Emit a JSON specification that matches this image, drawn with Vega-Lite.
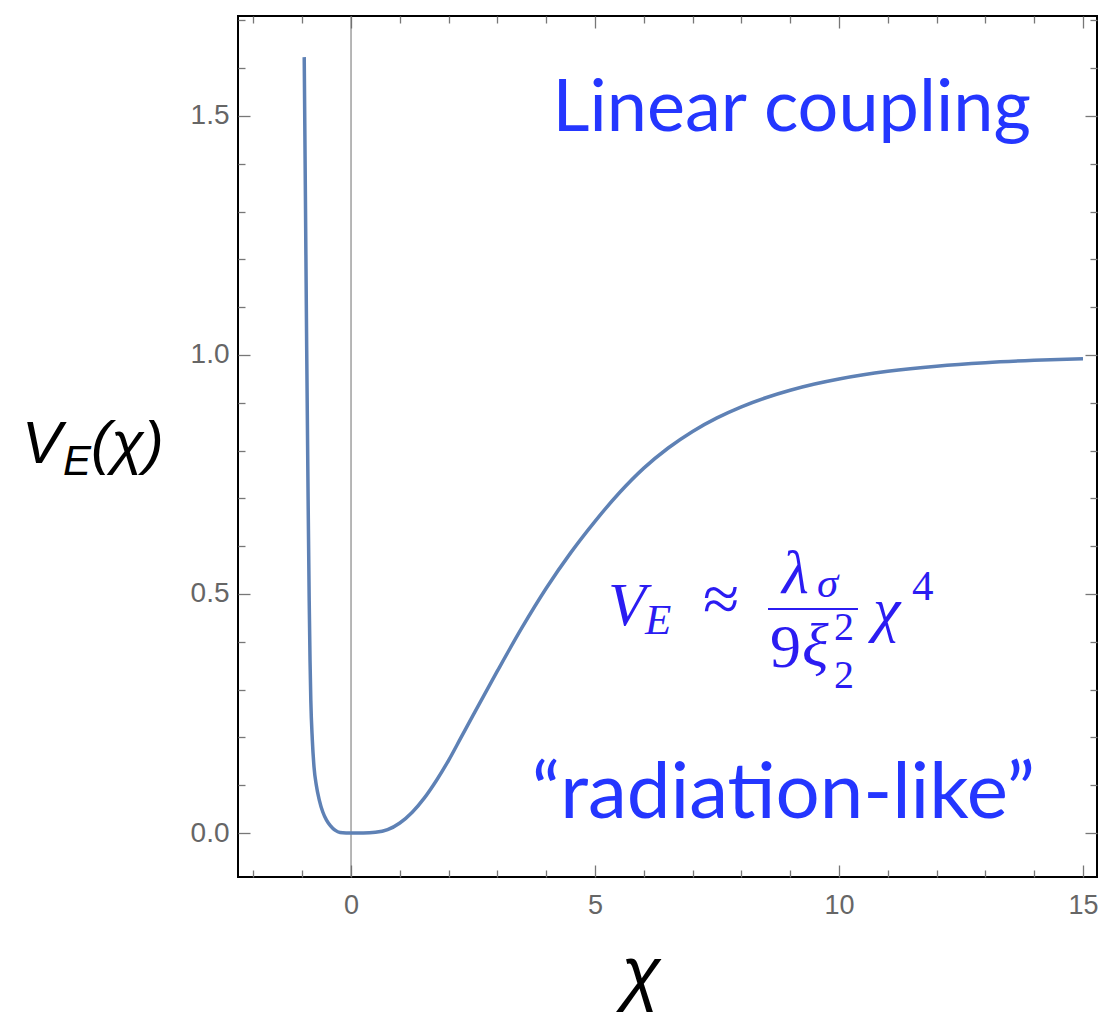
{
  "$schema": "https://vega.github.io/schema/vega-lite/v6.json",
  "width": 859,
  "height": 861,
  "autosize": {"type": "none"},
  "padding": {"left": 238, "top": 16, "right": 1, "bottom": 136},
  "background": "white",
  "config": {"view": {"stroke": "black", "strokeWidth": 2}},
  "data": {"values": [{}]},
  "datasets": {
    "curve": [
      {"chi": -0.959, "V": 1.623},
      {"chi": -0.934, "V": 1.324},
      {"chi": -0.908, "V": 1.01},
      {"chi": -0.879, "V": 0.697},
      {"chi": -0.857, "V": 0.487},
      {"chi": -0.84, "V": 0.362},
      {"chi": -0.824, "V": 0.278},
      {"chi": -0.793, "V": 0.195},
      {"chi": -0.758, "V": 0.138},
      {"chi": -0.711, "V": 0.1},
      {"chi": -0.65, "V": 0.069},
      {"chi": -0.578, "V": 0.044},
      {"chi": -0.502, "V": 0.027},
      {"chi": -0.42, "V": 0.015},
      {"chi": -0.328, "V": 0.006},
      {"chi": -0.225, "V": 0.001},
      {"chi": -0.1, "V": 0.0001},
      {"chi": 0, "V": 0},
      {"chi": 0.25, "V": 0.0001},
      {"chi": 0.5, "V": 0.0015},
      {"chi": 0.75, "V": 0.007},
      {"chi": 1.0, "V": 0.021},
      {"chi": 1.25, "V": 0.043},
      {"chi": 1.5, "V": 0.073},
      {"chi": 1.75, "V": 0.11},
      {"chi": 2.0, "V": 0.152},
      {"chi": 2.25, "V": 0.199},
      {"chi": 2.5, "V": 0.246},
      {"chi": 3.0, "V": 0.339},
      {"chi": 3.5, "V": 0.429},
      {"chi": 4.0, "V": 0.512},
      {"chi": 4.5, "V": 0.586},
      {"chi": 5.0, "V": 0.652},
      {"chi": 5.5, "V": 0.7117},
      {"chi": 6.0, "V": 0.7632},
      {"chi": 6.5, "V": 0.8054},
      {"chi": 7.0, "V": 0.8401},
      {"chi": 7.5, "V": 0.8683},
      {"chi": 8.0, "V": 0.8915},
      {"chi": 8.5, "V": 0.9105},
      {"chi": 9.0, "V": 0.9262},
      {"chi": 9.5, "V": 0.9392},
      {"chi": 10.0, "V": 0.9498},
      {"chi": 10.5, "V": 0.9586},
      {"chi": 11.0, "V": 0.9658},
      {"chi": 12.0, "V": 0.9766},
      {"chi": 13.0, "V": 0.9839},
      {"chi": 14.0, "V": 0.9888},
      {"chi": 15.0, "V": 0.9922}
    ]
  },
  "resolve": {"axis": {"x": "independent", "y": "independent"}},
  "layer": [
    {
      "mark": {"type": "rule", "color": "#6e6e6e", "strokeWidth": 1},
      "encoding": {
        "x": {"datum": 0, "type": "quantitative", "scale": {"domain": [-2.316, 15.287], "nice": false, "zero": false}, "axis": null}
      }
    },
    {
      "data": {"name": "curve"},
      "mark": {"type": "line", "color": "#5E81B5", "strokeWidth": 3.5, "interpolate": "monotone"},
      "encoding": {
        "x": {
          "field": "chi", "type": "quantitative",
          "scale": {"domain": [-2.316, 15.287], "nice": false, "zero": false},
          "axis": {
            "orient": "bottom", "title": null, "domain": false, "grid": false,
            "values": [-2, -1, 0, 1, 2, 3, 4, 5, 6, 7, 8, 9, 10, 11, 12, 13, 14, 15],
            "tickSize": {"condition": {"test": "datum.value % 5 === 0", "value": -12}, "value": -7},
            "tickColor": "#777777", "tickWidth": 1.3,
            "labelExpr": "datum.value % 5 === 0 ? datum.label : ''",
            "labelFont": "Liberation Sans", "labelFontSize": 27, "labelColor": "#666666",
            "labelPadding": 27, "labelFlush": false, "labelOverlap": false, "labelBound": false
          }
        },
        "y": {
          "field": "V", "type": "quantitative",
          "scale": {"domain": [-0.092, 1.709], "nice": false, "zero": false},
          "axis": {
            "orient": "left", "title": null, "domain": false, "grid": false,
            "values": [0, 0.1, 0.2, 0.3, 0.4, 0.5, 0.6, 0.7, 0.8, 0.9, 1.0, 1.1, 1.2, 1.3, 1.4, 1.5, 1.6, 1.7],
            "tickSize": {"condition": {"test": "abs(datum.value*2 - round(datum.value*2)) < 0.001", "value": -12}, "value": -7},
            "tickColor": "#777777", "tickWidth": 1.3,
            "format": ".1f",
            "labelExpr": "abs(datum.value*2 - round(datum.value*2)) < 0.001 ? datum.label : ''",
            "labelFont": "Liberation Sans", "labelFontSize": 28, "labelColor": "#666666",
            "labelPadding": 21, "labelFlush": false, "labelOverlap": false, "labelBound": false
          }
        }
      }
    },
    {
      "data": {"name": "curve"},
      "mark": {"type": "point", "opacity": 0},
      "encoding": {
        "x": {
          "field": "chi", "type": "quantitative",
          "scale": {"domain": [-2.316, 15.287], "nice": false, "zero": false},
          "axis": {
            "orient": "top", "title": null, "domain": false, "grid": false, "labels": false,
            "values": [-2, -1, 0, 1, 2, 3, 4, 5, 6, 7, 8, 9, 10, 11, 12, 13, 14, 15],
            "tickSize": {"condition": {"test": "datum.value % 5 === 0", "value": -12}, "value": -7},
            "tickColor": "#777777", "tickWidth": 1.3
          }
        },
        "y": {
          "field": "V", "type": "quantitative",
          "scale": {"domain": [-0.092, 1.709], "nice": false, "zero": false},
          "axis": {
            "orient": "right", "title": null, "domain": false, "grid": false, "labels": false,
            "values": [0, 0.1, 0.2, 0.3, 0.4, 0.5, 0.6, 0.7, 0.8, 0.9, 1.0, 1.1, 1.2, 1.3, 1.4, 1.5, 1.6, 1.7],
            "tickSize": {"condition": {"test": "abs(datum.value*2 - round(datum.value*2)) < 0.001", "value": -12}, "value": -7},
            "tickColor": "#777777", "tickWidth": 1.3
          }
        }
      }
    },
    {
      "mark": {"type": "text", "text": "Linear coupling", "font": "Lato", "fontSize": 72, "color": "#2436FF", "align": "center", "baseline": "alphabetic"},
      "encoding": {"x": {"datum": 9.03, "axis": null}, "y": {"datum": 1.468, "axis": null}}
    },
    {
      "mark": {"type": "text", "text": "“radiation-like”", "font": "Lato", "fontSize": 78, "color": "#2436FF", "align": "center", "baseline": "alphabetic"},
      "encoding": {"x": {"datum": 8.86, "axis": null}, "y": {"datum": 0.031, "axis": null}}
    },
    {
      "mark": {"type": "text", "text": "V", "font": "Liberation Serif", "fontStyle": "italic", "fontSize": 62, "color": "#2B1CF2", "align": "left", "baseline": "alphabetic"},
      "encoding": {"x": {"datum": 5.266, "axis": null}, "y": {"datum": 0.435, "axis": null}}
    },
    {
      "mark": {"type": "text", "text": "E", "font": "Liberation Serif", "fontStyle": "italic", "fontSize": 43, "color": "#2B1CF2", "align": "left", "baseline": "alphabetic"},
      "encoding": {"x": {"datum": 6.025, "axis": null}, "y": {"datum": 0.416, "axis": null}}
    },
    {
      "mark": {"type": "text", "text": "≈", "font": "Liberation Serif", "fontSize": 66, "color": "#2B1CF2", "align": "center", "baseline": "alphabetic"},
      "encoding": {"x": {"datum": 7.582, "axis": null}, "y": {"datum": 0.443, "axis": null}}
    },
    {
      "mark": {"type": "text", "text": "λ", "font": "Liberation Serif", "fontStyle": "italic", "fontSize": 62, "color": "#2B1CF2", "align": "left", "baseline": "alphabetic"},
      "encoding": {"x": {"datum": 8.832, "axis": null}, "y": {"datum": 0.502, "axis": null}}
    },
    {
      "mark": {"type": "text", "text": "σ", "font": "Liberation Serif", "fontStyle": "italic", "fontSize": 43, "color": "#2B1CF2", "align": "left", "baseline": "alphabetic"},
      "encoding": {"x": {"datum": 9.549, "axis": null}, "y": {"datum": 0.494, "axis": null}}
    },
    {
      "mark": {"type": "rule", "color": "#2B1CF2", "strokeWidth": 2},
      "encoding": {"x": {"datum": 8.545, "axis": null}, "x2": {"datum": 10.389}, "y": {"datum": 0.4686, "axis": null}}
    },
    {
      "mark": {"type": "text", "text": "9", "font": "Liberation Serif", "fontSize": 62, "color": "#2B1CF2", "align": "left", "baseline": "alphabetic"},
      "encoding": {"x": {"datum": 8.586, "axis": null}, "y": {"datum": 0.347, "axis": null}}
    },
    {
      "mark": {"type": "text", "text": "ξ", "font": "Liberation Serif", "fontStyle": "italic", "fontSize": 62, "color": "#2B1CF2", "align": "left", "baseline": "alphabetic"},
      "encoding": {"x": {"datum": 9.242, "axis": null}, "y": {"datum": 0.349, "axis": null}}
    },
    {
      "mark": {"type": "text", "text": "2", "font": "Liberation Serif", "fontSize": 40, "color": "#2B1CF2", "align": "left", "baseline": "alphabetic"},
      "encoding": {"x": {"datum": 9.898, "axis": null}, "y": {"datum": 0.4038, "axis": null}}
    },
    {
      "mark": {"type": "text", "text": "2", "font": "Liberation Serif", "fontSize": 40, "color": "#2B1CF2", "align": "left", "baseline": "alphabetic"},
      "encoding": {"x": {"datum": 9.898, "axis": null}, "y": {"datum": 0.3033, "axis": null}}
    },
    {
      "mark": {"type": "text", "text": "χ", "font": "Liberation Serif", "fontStyle": "italic", "fontSize": 62, "color": "#2B1CF2", "align": "left", "baseline": "alphabetic"},
      "encoding": {"x": {"datum": 10.697, "axis": null}, "y": {"datum": 0.425, "axis": null}}
    },
    {
      "mark": {"type": "text", "text": "4", "font": "Liberation Serif", "fontSize": 43, "color": "#2B1CF2", "align": "left", "baseline": "alphabetic"},
      "encoding": {"x": {"datum": 11.496, "axis": null}, "y": {"datum": 0.487, "axis": null}}
    },
    {
      "mark": {"type": "text", "text": "V", "font": "Liberation Sans", "fontStyle": "italic", "fontSize": 60, "color": "black", "align": "left", "baseline": "alphabetic"},
      "encoding": {"x": {"datum": -6.742, "axis": null}, "y": {"datum": 0.774, "axis": null}}
    },
    {
      "mark": {"type": "text", "text": "E", "font": "Liberation Sans", "fontStyle": "italic", "fontSize": 42, "color": "black", "align": "left", "baseline": "alphabetic"},
      "encoding": {"x": {"datum": -5.902, "axis": null}, "y": {"datum": 0.749, "axis": null}}
    },
    {
      "mark": {"type": "text", "text": "(χ)", "font": "Liberation Sans", "fontStyle": "italic", "fontSize": 60, "color": "black", "align": "left", "baseline": "alphabetic"},
      "encoding": {"x": {"datum": -5.328, "axis": null}, "y": {"datum": 0.774, "axis": null}}
    },
    {
      "mark": {"type": "text", "text": "χ", "font": "Liberation Sans", "fontStyle": "italic", "fontSize": 72, "color": "black", "align": "center", "baseline": "alphabetic"},
      "encoding": {"x": {"datum": 5.943, "axis": null}, "y": {"datum": -0.343, "axis": null}}
    }
  ]
}
